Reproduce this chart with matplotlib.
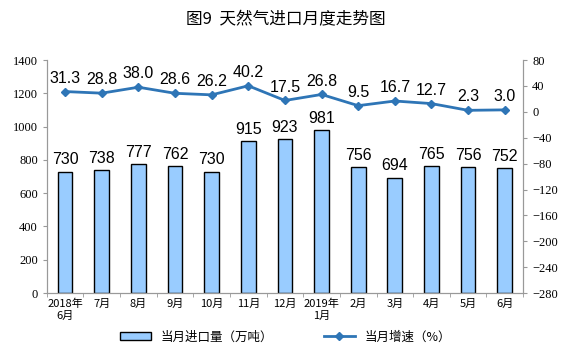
import matplotlib.pyplot as plt
import numpy as np

plt.rcParams['font.family'] = ['Liberation Serif', 'Noto Sans CJK SC']

months = ['2018年\n6月', '7月', '8月', '9月', '10月', '11月', '12月',
          '2019年\n1月', '2月', '3月', '4月', '5月', '6月']
imports = [730, 738, 777, 762, 730, 915, 923, 981, 756, 694, 765, 756, 752]
growth = [31.3, 28.8, 38.0, 28.6, 26.2, 40.2, 17.5, 26.8, 9.5, 16.7, 12.7, 2.3, 3.0]

fig = plt.figure(figsize=(5.71, 3.51), dpi=100)
ax = fig.add_axes([0.082, 0.165, 0.834, 0.664])
ax2 = ax.twinx()

x = np.arange(len(months))
bars = ax.bar(x, imports, width=0.4, color='#99CCFF', edgecolor='black', linewidth=1.0,
              label='当月进口量（万吨）', zorder=2)
for xi, v in zip(x, imports):
    ax.text(xi, v + 25, str(v), ha='center', va='bottom', fontsize=11.5,
            family=['Liberation Sans'])

ax.set_ylim(0, 1400)
ax.set_yticks(np.arange(0, 1401, 200))
ax.set_xlim(-0.5, len(months) - 0.5)
ax.set_xticks(x)
ax.set_xticklabels(months, fontsize=8, family=['Noto Sans CJK SC'])
ax.set_xticks(np.arange(-0.5, len(months), 1), minor=True)
ax.tick_params(axis='x', which='major', length=0, pad=4)
ax.tick_params(axis='x', which='minor', length=3, color='#999999')
ax.tick_params(axis='y', labelsize=9, length=3, color='#999999')
for lb in ax.get_yticklabels():
    lb.set_family('Liberation Serif')

line, = ax2.plot(x, growth, color='#2E75B6', linewidth=2, marker='D', markersize=4,
                 label='当月增速（%）')
for xi, v in zip(x, growth):
    ax2.text(xi, v + 9, '%.1f' % v, ha='center', va='bottom', fontsize=11.5,
             family=['Liberation Sans'])
ax2.set_ylim(-280, 80)
ax2.set_yticks(np.arange(-280, 81, 40))
ax2.tick_params(axis='y', labelsize=9, length=3, color='#999999')
for lb in ax2.get_yticklabels():
    lb.set_family('Liberation Serif')

for a in (ax, ax2):
    a.spines['top'].set_visible(False)
    for s in ('left', 'right', 'bottom'):
        a.spines[s].set_color('#999999')

fig.text(0.5, 0.945, '图9  天然气进口月度走势图', ha='center', va='center', fontsize=12,
         family=['Noto Sans CJK SC'])

fig.legend([bars, line], ['当月进口量（万吨）', '当月增速（%）'], loc='center',
           bbox_to_anchor=(0.5, 0.04), ncol=2, frameon=False,
           prop={'family': ['Noto Sans CJK SC'], 'size': 9},
           handlelength=2.5, handleheight=0.5, columnspacing=4)

fig.savefig('out.png', dpi=100)
